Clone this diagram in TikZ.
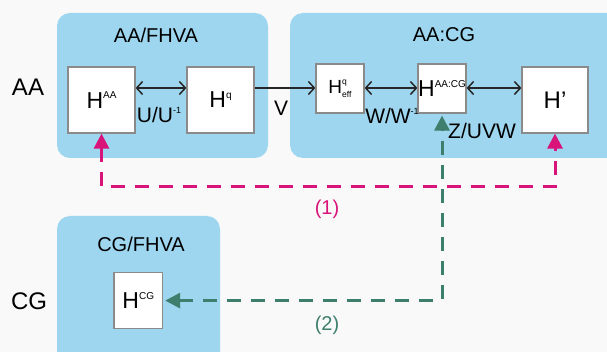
\documentclass[tikz,border=0pt]{standalone}
\usepackage{fontspec}
\setmainfont{Liberation Sans}
\usetikzlibrary{arrows.meta}
\definecolor{bg}{HTML}{F9F9FA}
\definecolor{panel}{HTML}{9DD6EE}
\definecolor{frame}{HTML}{8A8A8A}
\definecolor{magline}{HTML}{D8137A}
\definecolor{grnline}{HTML}{3E7E6C}
\newcommand{\fs}[1]{\fontsize{#1}{#1}\selectfont}
\newcommand{\sups}[2][10]{\raisebox{0.42em}{\fs{#1}#2}}

\begin{document}
\begin{tikzpicture}[x=1pt,y=-1pt,
  panelbox/.style={fill=panel, rounded corners=13pt},
  hbox/.style={draw=frame, line width=1.2pt, fill=white, inner sep=0pt},
  title/.style={font=\fs{20}},
  rowlabel/.style={font=\fs{24}},
  oplabel/.style={font=\fs{21}},
  link/.style={line width=1.5pt, draw=black!85},
  dbl/.style={link, {Straight Barb[length=6pt,width=13pt]}-{Straight Barb[length=6pt,width=13pt]}},
  sgl/.style={link, -{Straight Barb[length=6pt,width=13pt]}},
  magdash/.style={draw=magline, line width=3pt, dash pattern=on 14pt off 10pt,
    {Triangle[length=15pt,width=15pt]}-{Triangle[length=15pt,width=15pt]}},
  grndash/.style={draw=grnline, line width=3pt, dash pattern=on 14pt off 10pt,
    {Triangle[length=15pt,width=15pt]}-{Triangle[length=15pt,width=15pt]},
    shorten <=2pt, shorten >=2pt}
]
\useasboundingbox (0,0) rectangle (607,352);
\clip (0,0) rectangle (607,352);
\fill[bg] (0,0) rectangle (607,352);

% panels
\path[panelbox] (57,13) rectangle (268,158);
\path[panelbox] (290,13) rectangle (640,158);
\path[panelbox] (57,216) rectangle (220,390);

% panel titles and row labels
\node[title] (t1) at (156,35) {AA/FHVA};
\node[title] (t2) at (444,35) {AA:CG};
\node[title] (t3) at (141,244) {CG/FHVA};
\node[rowlabel] (rAA) at (28,87) {AA};
\node[rowlabel] (rCG) at (29,301) {CG};

% Hamiltonian boxes
\node[hbox, minimum width=67pt, minimum height=66pt] (haa) at (101.5,100)
  {\fs{23}H\sups{AA}};
\node[hbox, minimum width=67pt, minimum height=66pt] (hq) at (220.5,100)
  {\fs{23}H\sups{q}};
\node[hbox, minimum width=48pt, minimum height=49pt] (heff) at (340,88.5)
  {\fs{19}H\rlap{\raisebox{0.5em}{\fs{8.5}q}}\raisebox{-0.2em}{\fs{8.5}eff}};
\node[hbox, minimum width=48pt, minimum height=49pt] (haacg) at (442,88.5)
  {\fs{23}\kern-1pt H\sups{AA:CG}\kern-1pt};
\node[hbox, minimum width=66pt, minimum height=66pt] (hp) at (555,100)
  {\fs{24}H'};
\node[hbox, minimum width=48.6pt, minimum height=56pt] (hcg) at (138.3,300.6)
  {\fs{23}H\sups{CG}};

% transformations between the Hamiltonians
\coordinate (row) at (0,88);
\draw[dbl] (haa.east |- row) -- (hq.west |- row);
\draw[sgl] (hq.east |- row) -- (heff.west |- row);
\draw[dbl] (heff.east |- row) -- (haacg.west |- row);
\draw[dbl] (haacg.east |- row) -- (hp.west |- row);

\node[oplabel] (lU) at (159,115) {U/U\sups[9]{-1}};
\node[oplabel] (lV) at (281,108) {V};
\node[oplabel] (lW) at (392,116) {W/W\sups[9]{-1}};
\node[oplabel] (lZ) at (482,131) {Z/UVW};

% mapping paths
\draw[magdash] (haa.south) -- ++(0,53) -| (hp.south);
\draw[grndash] (hcg.east) -| (haacg.south);
\node[title, text=magline] (p1) at (327,209) {(1)};
\node[title, text=grnline] (p2) at (327,325) {(2)};
\end{tikzpicture}
\end{document}
